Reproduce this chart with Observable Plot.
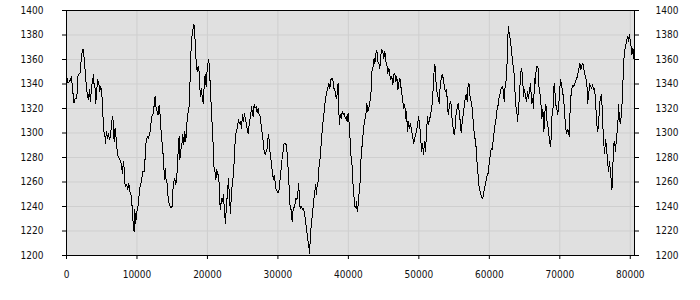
<!DOCTYPE html>
<html><head><meta charset="utf-8">
<script src="https://cdn.jsdelivr.net/npm/d3@7"></script>
<script src="https://cdn.jsdelivr.net/npm/@observablehq/plot@0.6"></script>
<style>
html,body{margin:0;padding:0;background:#fff;}
svg text{font-stretch:condensed;}
</style></head><body><div id="chart"></div>
<script>
const xValues = [0,40,227,511,700,842,1078,1220,1457,1646,1930,2119,2261,2403,2498,2640,2781,2971,3113,3254,3396,3586,3728,3822,3917,4059,4153,4295,4437,4579,4721,4863,5005,5147,5242,5431,5525,5667,5809,5951,6093,6235,6377,6519,6661,6756,6898,6992,7134,7229,7465,7607,7796,7938,8080,8175,8270,8412,8553,8695,8837,8979,9121,9263,9405,9500,9595,9689,9831,9973,10115,10257,10399,10541,10683,10825,11013,11155,11297,11487,11629,11771,11912,12054,12196,12338,12480,12575,12717,12859,13001,13142,
13286,13428,13570,13712,13854,13948,14043,14137,14279,14421,14563,14705,14847,14989,15084,15226,15368,15510,15651,15746,15888,15983,16077,16219,16361,16503,16645,16787,16929,17071,17213,17355,17497,17591,17686,17780,17922,18064,18159,18254,18395,18537,18679,18821,18916,19058,19152,19294,19436,19531,19673,19815,19957,20099,20193,20288,20430,20525,20667,20808,20903,21045,21187,21329,21471,21613,21707,21849,21991,22133,22275,22417,22559,22701,22843,22985,23126,23268,23410,23552,23694,23836,23978,24120,24262,24404,24546,24688,24830,24972,25113,25255,25397,25539,25681,25823,25965,26107,26249,
26486,26628,26770,26912,27054,27196,27338,27480,27621,27763,27905,28047,28189,28331,28473,28615,28710,28804,28946,29088,29230,29372,29467,29608,29750,29892,30034,30176,30318,30460,30602,30744,30886,31028,31170,31264,31359,31501,31595,31737,31879,32021,32116,32258,32400,32542,32684,32826,32967,33062,33204,33346,33488,33630,33772,33914,34056,34198,34340,34481,34623,34765,34907,35049,35191,35333,35475,35570,35711,35806,35948,36090,36232,36374,36516,36658,36800,36942,37084,37226,37368,37510,37651,37793,37935,38077,38219,38361,38456,38598,38692,38834,38976,39118,39260,39402,39544,39686,39828,
39970,40112,40206,40348,40490,40632,40774,40916,41058,41153,41247,41389,41531,41673,41815,41957,42099,42241,42383,42525,42619,42761,42903,43045,43187,43282,43376,43518,43660,43755,43897,44039,44181,44322,44464,44606,44748,44890,45032,45174,45316,45458,45600,45742,45884,46026,46168,46309,46451,46593,46735,46877,47019,47161,47303,47445,47587,47729,47871,48013,48107,48249,48391,48533,48675,48817,48959,49101,49243,49385,49527,49669,49811,49953,50094,50236,50378,50520,50662,50804,50946,51088,51230,51372,51514,51656,51798,51940,52082,52224,52366,52460,52602,52744,52886,53028,53170,
53313,53455,53597,53739,53881,54023,54165,54306,54448,54590,54732,54874,55016,55158,55300,55442,55584,55726,55868,56010,56152,56294,56436,56578,56719,56861,57003,57145,57287,57429,57571,57713,57855,57997,58139,58281,58423,58565,58707,58848,58990,59132,59274,59416,59558,59700,59842,59984,60126,60268,60410,60552,60693,60835,60977,61119,61261,61403,61545,61687,61829,61971,62113,62255,62397,62491,62586,62680,62775,62869,63011,63106,63248,63390,63532,63626,63721,63863,64005,64147,64289,64431,64573,64714,64856,64998,65140,65282,65424,65566,65708,65850,65992,66134,66276,66418,66560,
66655,66797,66939,67081,67223,67317,67459,67601,67743,67885,68027,68169,68311,68453,68595,68689,68784,68878,69020,69115,69257,69399,69541,69683,69825,69967,70108,70250,70392,70534,70676,70818,70960,71102,71244,71339,71433,71575,71717,71859,72001,72143,72285,72427,72569,72711,72853,72995,73136,73278,73420,73562,73704,73846,73941,74083,74225,74367,74509,74651,74793,74935,75077,75219,75361,75503,75645,75787,75928,76070,76212,76354,76496,76638,76780,76922,77064,77206,77348,77395,77490,77632,77774,77915,78057,78199,78341,78483,78625,78767,78909,79051,79193,79335,79477,79619,79761,79855,79949,80091,80233,80375,80517,80600];

const yValues = [1332,1346,1340.7,1343,1346,1336.6,1324.3,1328.4,1328.4,1347.5,1348.8,1362.4,1367.9,1367.9,1361,1351.6,1340.7,1329.8,1327.1,1335.2,1325.7,1339.3,1343.4,1347.5,1339.3,1336.6,1324.3,1335.2,1343.4,1340.7,1333.9,1338,1332.5,1320.3,1301.2,1299.9,1291.7,1301.2,1295.8,1299.9,1294.4,1297.1,1306.7,1313.5,1308,1293.1,1304,1298.5,1290.3,1282.2,1279.5,1278.1,1274,1267.2,1276.7,1271.3,1259.1,1256.3,1257.7,1253.6,1259.1,1252.2,1250.9,1244.1,1230.5,1223.7,1219.6,1237.3,1226.4,1235.9,1238.7,1246.8,1255,1257.7,1263.1,1268.6,1268.6,1279.5,1293.1,1297.1,1295.8,1298.5,1302.6,1312.1,1314.8,1316.2,1325.7,1329.8,1320.3,1317.5,1314.8,1323,
1314.8,1301.2,1291.7,1282.2,1268.6,1261.8,1271.3,1260.4,1259.1,1246.8,1242.7,1240,1239.2,1240,1252.2,1260.4,1263.1,1257.7,1264.5,1274,1290.3,1297.1,1278.1,1286.3,1290.3,1298.5,1290.3,1301.2,1293.1,1306.7,1316.2,1317.5,1335.2,1354.3,1369.2,1377.4,1384.2,1388.3,1386.9,1374.7,1358.4,1350.2,1354.3,1350.2,1336.6,1329.8,1336.6,1327.1,1324.3,1338,1347.5,1338,1351.6,1358.4,1359.7,1350.2,1336.6,1323,1306.7,1290.3,1272.7,1269.9,1261.8,1269.9,1265.8,1265.8,1246.8,1237.3,1246.8,1244.1,1249.5,1235.9,1226.4,1241.4,1250.9,1263.1,1246.8,1234.6,1250.9,1260.4,1265.8,1282.2,1298.5,1301.2,1305.3,1310.7,1308,1309.4,1304,1314.8,1309.4,1316.2,1310.7,1308,1301.2,1299.9,1310.7,1312.1,1321.6,
1313.5,1323,1320.3,1321.6,1316.2,1320.3,1314.8,1313.5,1306.7,1299.9,1293.1,1284.9,1282.2,1284.9,1287.6,1297.1,1298.5,1287.6,1282.2,1274,1267.2,1261.8,1265.8,1260.4,1253.6,1252.2,1250.9,1253.6,1263.1,1271.3,1279.5,1284.9,1291.7,1291.7,1290.3,1287.6,1276.7,1268.6,1255,1238.6,1237.3,1227.8,1235.9,1238.7,1241.4,1246.8,1245.4,1250.9,1259.1,1241.4,1238.7,1240,1237.3,1238.7,1234.6,1227.8,1222.3,1214.1,1210,1201.9,1216.9,1227.8,1233.2,1244.1,1249.5,1257.7,1249.5,1257.7,1260.4,1271.3,1276.7,1287.6,1298.5,1308,1314.8,1323,1329.8,1333.9,1336.6,1340.7,1336.6,1343.4,1344.8,1343.4,1336.6,1335.2,1329.8,1328.4,1339.3,1340.7,1306.7,1314.8,1312.1,1317.5,1314.8,1316.2,1312.1,1313.5,1309.4,
1316.2,1308,1298.5,1282.2,1276.7,1260.4,1249.5,1240,1238.7,1244.1,1235.9,1241.4,1252.2,1260.4,1282.2,1290.3,1299.9,1308,1312.1,1317.5,1324.3,1317.5,1320.3,1325.7,1329.8,1343.4,1352.9,1354.3,1361.1,1357,1365.2,1367.1,1358.4,1357,1352.9,1363.8,1367.9,1366.5,1361.1,1366.5,1358.4,1355.6,1348.8,1352.9,1347.5,1343.4,1346.1,1339.3,1347.5,1348.8,1342,1346.1,1335.2,1340.7,1344.8,1338,1332.5,1325.7,1320.3,1323,1312.1,1317.5,1301.2,1309.4,1304,1308,1301.2,1298.5,1291.7,1294.4,1298.5,1301.2,1306.7,1313.5,1308,1298.5,1284.9,1291.7,1282.2,1293.1,1284.9,1301.2,1313.5,1306.7,1310.7,1314.8,1320.3,1325.7,1343.4,1355.6,1352.9,1338,1332.5,1328.4,1324.3,1338,1344.8,
1347.5,1344.8,1339.3,1333.9,1335.2,1328.4,1314.8,1320.3,1325.7,1323,1309.4,1304,1298.5,1304,1317.5,1320.3,1324.3,1317.5,1309.4,1299.9,1309.4,1314.8,1321.6,1328.4,1331.2,1325.7,1340.7,1339.3,1328.4,1325.7,1320.3,1309.4,1299.9,1294.4,1287.6,1274,1264.5,1255,1252.2,1248.2,1246.8,1248.2,1253.6,1257.7,1261.8,1265.8,1267.2,1275.4,1282.2,1287.6,1286.3,1294.4,1301.2,1308,1312.1,1320.3,1323,1329.8,1332.5,1336.6,1338,1335.2,1325.7,1339.3,1343.4,1354.3,1366.5,1386.9,1382.9,1380.1,1374.7,1369.2,1361.1,1354.3,1347.5,1336.6,1321.6,1320.3,1309.4,1320.3,1331.2,1348.8,1352.9,1346.1,1329.8,1335.2,1329.8,1325.7,1333.9,1328.4,1335.2,1340.7,1324.3,1328.4,1320.3,1344.8,1340.7,
1354.3,1354.3,1352.9,1333.9,1331.2,1324.3,1312.1,1318.9,1301.2,1317.5,1323,1310.7,1305.3,1298.5,1291.7,1289,1297.1,1313.5,1317.5,1336.6,1340.7,1323,1321.6,1314.8,1320.3,1333.9,1343.4,1339.3,1333.9,1328.4,1317.5,1304,1299.9,1302.6,1301.2,1297.1,1314.8,1329.8,1336.6,1339.3,1338,1340.7,1343.4,1344.8,1348.8,1352.9,1357,1351.6,1355.6,1357,1351.6,1347.5,1344.8,1340.7,1324.3,1329.8,1340.7,1338,1336.6,1339.3,1335.2,1336.6,1325.7,1309.4,1301.2,1306.7,1323,1329.8,1331.2,1312.1,1293.1,1283.5,1294.4,1287.6,1276.7,1268.6,1276.7,1265.8,1260.4,1253.6,1265.8,1290.3,1293.1,1284.9,1298.5,1301.2,1323,1309.4,1308,1317.5,1332.5,1357,1366.5,1370.6,1374.7,1378.8,1374.7,1380.1,1377.4,1372,1363.8,1369.2,1361.1,1358.4];

const xTicks = [0, 10000, 20000, 30000, 40000, 50000, 60000, 70000, 80000];
const yTicks = [1200, 1220, 1240, 1260, 1280, 1300, 1320, 1340, 1360, 1380, 1400];

const data = xValues.map((x, i) => ({x, y: yValues[i]}));
const fmt = d3.format("d");

const chart = Plot.plot({
  width: 700,
  height: 300,
  marginLeft: 66,
  marginRight: 66,
  marginTop: 10,
  marginBottom: 45,
  style: {fontFamily: "'DejaVu Sans Condensed', 'DejaVu Sans', sans-serif", fontSize: "10px", color: "#111", background: "#fff", overflow: "visible"},
  x: {domain: [0, 80600], ticks: xTicks},
  y: {domain: [1200, 1400], ticks: yTicks},
  marks: [
    Plot.frame({fill: "#e0e0e0", stroke: "none"}),
    Plot.gridX(xTicks, {stroke: "#cfcfcf", strokeOpacity: 1}),
    Plot.gridY(yTicks, {stroke: "#cfcfcf", strokeOpacity: 1}),
    Plot.line(data, {x: "x", y: "y", stroke: "#000", strokeWidth: 1, shapeRendering: "crispEdges"}),
    Plot.frame({stroke: "#000", strokeWidth: 1}),
    Plot.axisX(xTicks, {tickSize: 4, tickPadding: 11, tickFormat: fmt, label: null, stroke: "#000"}),
    Plot.axisY(yTicks, {anchor: "left", tickSize: 4, tickPadding: 19, tickFormat: fmt, label: null, stroke: "#000"}),
    Plot.axisY(yTicks, {anchor: "right", tickSize: 4, tickPadding: 17, tickFormat: fmt, label: null, stroke: "#000"})
  ]
});
document.getElementById("chart").appendChild(chart);
</script>
</body></html>
